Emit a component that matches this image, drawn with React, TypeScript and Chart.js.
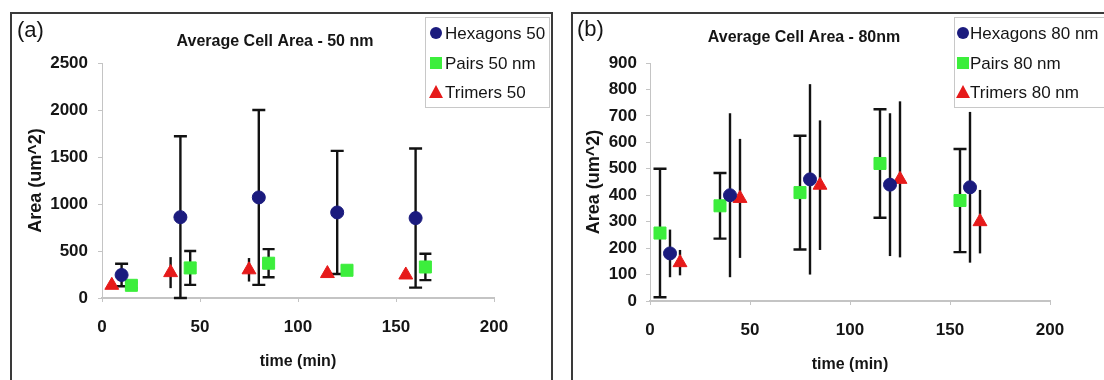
import React, { useEffect, useRef } from 'react';
import { Chart, registerables } from 'chart.js';

Chart.register(...registerables);

const FONT = "'Liberation Sans', Arial, Helvetica, sans-serif";

// ---------- shared texts ----------
const xAxisTitle = 'time (min)';
const yAxisTitle = 'Area (um^2)';

// ---------- Panel (a): 50 nm ----------
const panelLabelA = '(a)';
const titleA = 'Average Cell Area - 50 nm';
const seriesNamesA = ['Hexagons 50', 'Pairs 50 nm', 'Trimers 50'];
const hexTimeA = [10, 40, 80, 120, 160];
const hexAreaA = [245, 860, 1070, 910, 850];
const hexErrA = [120, 860, 930, 655, 740];
const pairsTimeA = [15, 45, 85, 125, 165];
const pairsAreaA = [135, 320, 370, 295, 330];
const pairsErrA = [30, 180, 150, 30, 140];
const trimersTimeA = [5, 35, 75, 115, 155];
const trimersAreaA = [135, 270, 300, 260, 245];
const trimersErrA = [30, 165, 125, 30, 30];
const xTicksA = [0, 50, 100, 150, 200];
const yTicksA = [0, 500, 1000, 1500, 2000, 2500];

// ---------- Panel (b): 80 nm ----------
const panelLabelB = '(b)';
const titleB = 'Average Cell Area - 80nm';
const seriesNamesB = ['Hexagons 80 nm', 'Pairs 80 nm', 'Trimers 80 nm'];
const hexTimeB = [10, 40, 80, 120, 160];
const hexAreaB = [180, 400, 460, 440, 430];
const hexErrB = [90, 310, 360, 270, 285];
const pairsTimeB = [5, 35, 75, 115, 155];
const pairsAreaB = [257, 360, 410, 520, 380];
const pairsErrB = [243, 124, 215, 205, 195];
const trimersTimeB = [15, 45, 85, 125, 165];
const trimersAreaB = [145, 388, 438, 460, 300];
const trimersErrB = [48, 225, 245, 295, 120];
const xTicksB = [0, 50, 100, 150, 200];
const yTicksB = [0, 100, 200, 300, 400, 500, 600, 700, 800, 900];

const HEX_COLOR = '#1b1b7e';
const PAIR_COLOR = '#3cee3c';
const TRI_COLOR = '#e61a1a';
const TEXT = '#151515';
const AXIS = '#c4c4c4';

const errorBarPlugin = {
  id: 'errorBars',
  beforeDatasetsDraw(chart: any) {
    const { ctx, scales } = chart;
    const xs = scales.x;
    const ys = scales.y;
    ctx.save();
    ctx.strokeStyle = '#121212';
    ctx.lineWidth = 2.4;
    chart.data.datasets.forEach((ds: any) => {
      const errs: number[] = ds.errorBars || [];
      const cap: number = ds.capHalf || 0;
      ds.data.forEach((pt: any, j: number) => {
        const e = errs[j];
        if (!e) return;
        const px = xs.getPixelForValue(pt.x);
        const yHi = ys.getPixelForValue(pt.y + e);
        const yLo = ys.getPixelForValue(Math.max(pt.y - e, ys.min));
        ctx.beginPath();
        ctx.moveTo(px, yHi);
        ctx.lineTo(px, yLo);
        if (cap) {
          ctx.moveTo(px - cap, yHi);
          ctx.lineTo(px + cap, yHi);
          ctx.moveTo(px - cap, yLo);
          ctx.lineTo(px + cap, yLo);
        }
        ctx.stroke();
      });
    });
    ctx.restore();
  },
};

function drawMarker(ctx: CanvasRenderingContext2D, style: string, x: number, y: number, color: string) {
  ctx.fillStyle = color;
  ctx.beginPath();
  if (style === 'circle') {
    ctx.arc(x, y, 6, 0, Math.PI * 2);
  } else if (style === 'rect') {
    ctx.rect(x - 6, y - 6, 12, 12);
  } else {
    ctx.moveTo(x, y - 7);
    ctx.lineTo(x + 7, y + 6);
    ctx.lineTo(x - 7, y + 6);
    ctx.closePath();
  }
  ctx.fill();
}

function decorPlugin(p: any) {
  return {
    id: 'decor',
    afterDraw(chart: any) {
      const ctx: CanvasRenderingContext2D = chart.ctx;
      const D = p.decor;
      ctx.save();
      ctx.fillStyle = TEXT;
      ctx.textBaseline = 'middle';
      // panel label
      ctx.font = `22px ${FONT}`;
      ctx.textAlign = 'left';
      ctx.fillText(p.label, D.labelX, D.labelY);
      // chart title
      ctx.font = `bold 16px ${FONT}`;
      ctx.textAlign = 'center';
      ctx.fillText(p.title, D.titleX, D.titleY);
      // legend
      ctx.textAlign = 'left';
      ctx.fillStyle = '#ffffff';
      ctx.fillRect(D.boxX, D.boxY, D.boxW, D.boxH);
      ctx.strokeStyle = '#c8c8c8';
      ctx.lineWidth = 1;
      ctx.strokeRect(D.boxX + 0.5, D.boxY + 0.5, D.boxW, D.boxH);
      ctx.font = `17px ${FONT}`;
      chart.data.datasets.forEach((ds: any, i: number) => {
        const cy = D.rows[i];
        drawMarker(ctx, ds.pointStyle, D.markerX, cy, ds.backgroundColor);
        ctx.fillStyle = TEXT;
        ctx.fillText(ds.label, D.textX, cy + 1);
      });
      ctx.restore();
    },
  };
}

function buildConfig(p: any): any {
  const L = p.layout;
  const tickFont = { family: FONT, size: 17, weight: 'bold' };
  return {
    type: 'scatter',
    data: {
      datasets: p.series.map((s: any) => ({
        label: s.name,
        data: s.times.map((t: number, i: number) => ({ x: t, y: s.areas[i] })),
        errorBars: s.errs,
        capHalf: s.cap,
        pointStyle: s.style,
        pointRadius: s.radius,
        pointHoverRadius: s.radius,
        backgroundColor: s.color,
        borderColor: s.color,
        borderWidth: 1,
        showLine: false,
      })),
    },
    options: {
      responsive: false,
      animation: false,
      events: [],
      layout: { padding: { left: 0, right: L.padRight, top: L.padTop, bottom: 0 } },
      plugins: {
        legend: { display: false },
        tooltip: { enabled: false },
        title: { display: false },
      },
      scales: {
        x: {
          type: 'linear',
          min: p.xTicks[0],
          max: p.xTicks[p.xTicks.length - 1],
          afterBuildTicks: (sc: any) => {
            sc.ticks = p.xTicks.map((v: number) => ({ value: v }));
          },
          afterFit: (sc: any) => {
            sc.height = L.xAxisHeight;
          },
          ticks: { font: tickFont, color: TEXT, padding: 15, callback: (v: any) => String(v) },
          grid: { display: true, drawOnChartArea: false, drawTicks: true, tickLength: 4, color: AXIS },
          border: { display: true, color: AXIS, width: 2 },
          title: {
            display: true,
            text: xAxisTitle,
            color: TEXT,
            font: { family: FONT, size: 16, weight: 'bold' },
            padding: { top: 0, bottom: L.xTitlePad },
          },
        },
        y: {
          type: 'linear',
          min: p.yTicks[0],
          max: p.yTicks[p.yTicks.length - 1],
          afterBuildTicks: (sc: any) => {
            sc.ticks = p.yTicks.map((v: number) => ({ value: v }));
          },
          afterFit: (sc: any) => {
            sc.width = L.yAxisWidth;
          },
          ticks: { font: tickFont, color: TEXT, padding: L.yTickPad, callback: (v: any) => String(v) },
          grid: { display: true, drawOnChartArea: false, drawTicks: true, tickLength: 4, color: AXIS },
          border: { display: true, color: AXIS, width: 1 },
          title: {
            display: true,
            text: yAxisTitle,
            color: TEXT,
            font: { family: FONT, size: 18, weight: 'bold' },
            padding: { top: L.yTitlePad, bottom: 0 },
          },
        },
      },
    },
    plugins: [errorBarPlugin, decorPlugin(p)],
  };
}

const panelA = {
  label: panelLabelA,
  title: titleA,
  xTicks: xTicksA,
  yTicks: yTicksA,
  series: [
    { name: seriesNamesA[0], times: hexTimeA, areas: hexAreaA, errs: hexErrA, cap: 6.5, style: 'circle', radius: 6.5, color: HEX_COLOR },
    { name: seriesNamesA[1], times: pairsTimeA, areas: pairsAreaA, errs: pairsErrA, cap: 6, style: 'rect', radius: 8.5, color: PAIR_COLOR },
    { name: seriesNamesA[2], times: trimersTimeA, areas: trimersAreaA, errs: trimersErrA, cap: 0, style: 'triangle', radius: 8, color: TRI_COLOR },
  ],
  layout: { padRight: 58, padTop: 63, yAxisWidth: 102, xAxisHeight: 82, yTitlePad: 25.2, xTitlePad: 8.4, yTickPad: 10 },
  decor: {
    labelX: 17, labelY: 31, titleX: 275, titleY: 42,
    boxX: 425, boxY: 17, boxW: 124, boxH: 90, rows: [33, 63, 92], markerX: 436, textX: 445,
  },
};

const panelB = {
  label: panelLabelB,
  title: titleB,
  xTicks: xTicksB,
  yTicks: yTicksB,
  series: [
    { name: seriesNamesB[0], times: hexTimeB, areas: hexAreaB, errs: hexErrB, cap: 0, style: 'circle', radius: 6.5, color: HEX_COLOR },
    { name: seriesNamesB[1], times: pairsTimeB, areas: pairsAreaB, errs: pairsErrB, cap: 6.5, style: 'rect', radius: 8.5, color: PAIR_COLOR },
    { name: seriesNamesB[2], times: trimersTimeB, areas: trimersAreaB, errs: trimersErrB, cap: 0, style: 'triangle', radius: 8, color: TRI_COLOR },
  ],
  layout: { padRight: 54, padTop: 63, yAxisWidth: 98, xAxisHeight: 79, yTitlePad: 31.7, xTitlePad: 5.4, yTickPad: 9 },
  decor: {
    labelX: 25, labelY: 30, titleX: 252, titleY: 38,
    boxX: 402, boxY: 17, boxW: 160, boxH: 90, rows: [33, 63, 92], markerX: 411, textX: 418,
  },
};

export default function App() {
  const refA = useRef<HTMLCanvasElement>(null);
  const refB = useRef<HTMLCanvasElement>(null);
  useEffect(() => {
    const a = new Chart(refA.current as HTMLCanvasElement, buildConfig(panelA));
    const b = new Chart(refB.current as HTMLCanvasElement, buildConfig(panelB));
    return () => {
      a.destroy();
      b.destroy();
    };
  }, []);
  return (
    <div style={{ position: 'fixed', left: 0, top: 0, width: 1104, height: 380, background: '#fff', overflow: 'hidden' }}>
      <div style={{ position: 'absolute', left: 10, top: 12, width: 543, height: 420, border: '2px solid #3a3a3a', boxSizing: 'border-box' }} />
      <div style={{ position: 'absolute', left: 571, top: 12, width: 600, height: 420, border: '2px solid #3a3a3a', boxSizing: 'border-box' }} />
      <canvas ref={refA} width={552} height={380} style={{ position: 'absolute', left: 0, top: 0 }} />
      <canvas ref={refB} width={552} height={380} style={{ position: 'absolute', left: 552, top: 0 }} />
    </div>
  );
}
